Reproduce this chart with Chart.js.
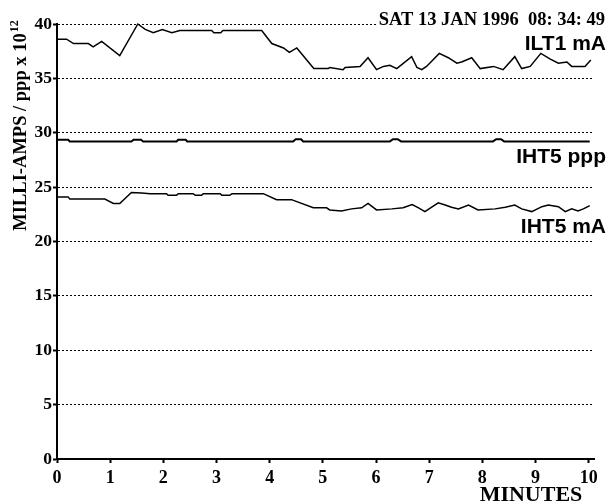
<!DOCTYPE html>
<html>
<head>
<meta charset="utf-8">
<script src="https://cdn.jsdelivr.net/npm/chart.js@4/dist/chart.umd.min.js"></script>
<style>
  html, body { margin: 0; padding: 0; background: #fff; }
  #wrap { width: 610px; height: 502px; }
</style>
</head>
<body>
<div id="wrap"><canvas id="chart"></canvas></div>
<script>
// traces (minutes, value)
var ilt1Minutes = [0, 0.18, 0.31, 0.59, 0.68, 0.84, 1.18, 1.52, 1.66, 1.81, 1.98, 2.16, 2.31, 2.91, 2.95, 3.08, 3.12, 3.85,
  4.04, 4.26, 4.37, 4.51, 4.83, 5.10, 5.13, 5.38, 5.42, 5.70, 5.85, 6.01, 6.14, 6.26, 6.39, 6.67, 6.77, 6.86, 6.95,
  7.19, 7.36, 7.52, 7.61, 7.80, 7.96, 8.21, 8.39, 8.61, 8.74, 8.90, 9.10, 9.27, 9.43, 9.59, 9.68, 9.93, 10.04];
var ilt1Values = [38.6, 38.6, 38.2, 38.2, 37.9, 38.4, 37.1, 40.0, 39.5, 39.2, 39.5, 39.2, 39.4, 39.4, 39.2, 39.2, 39.4, 39.4,
  38.2, 37.8, 37.4, 37.8, 35.9, 35.9, 36.0, 35.8, 36.0, 36.1, 36.9, 35.8, 36.1, 36.2, 35.9, 37.0, 36.0, 35.8, 36.1,
  37.3, 36.9, 36.4, 36.5, 36.9, 35.9, 36.1, 35.8, 37.0, 35.9, 36.1, 37.3, 36.8, 36.4, 36.5, 36.1, 36.1, 36.7];

var iht5pppMinutes = [0, 0.21, 0.24, 1.40, 1.44, 1.58, 1.62, 2.25, 2.28, 2.42, 2.45, 4.44, 4.49, 4.59, 4.63,
  6.26, 6.32, 6.41, 6.47, 8.20, 8.26, 8.35, 8.41, 10.02];
var iht5pppValues = [29.35, 29.35, 29.2, 29.2, 29.35, 29.35, 29.2, 29.2, 29.35, 29.35, 29.2, 29.2, 29.4, 29.4, 29.2,
  29.2, 29.4, 29.4, 29.2, 29.2, 29.4, 29.4, 29.2, 29.2];

var iht5maMinutes = [0, 0.21, 0.24, 0.90, 1.06, 1.18, 1.40, 1.59, 1.75, 2.06, 2.09, 2.25, 2.28, 2.56, 2.60, 2.72, 2.75,
  3.07, 3.10, 3.25, 3.29, 3.88, 4.13, 4.41, 4.82, 5.07, 5.13, 5.35, 5.54, 5.73, 5.85, 6.01, 6.30, 6.51, 6.68, 6.80,
  6.92, 7.17, 7.30, 7.42, 7.55, 7.74, 7.92, 8.24, 8.43, 8.61, 8.74, 8.93, 9.12, 9.24, 9.43, 9.56, 9.68, 9.80, 9.90, 10.02];
var iht5maValues = [24.1, 24.1, 23.9, 23.9, 23.5, 23.5, 24.5, 24.45, 24.4, 24.4, 24.25, 24.25, 24.4, 24.4, 24.25, 24.25, 24.4,
  24.4, 24.25, 24.25, 24.4, 24.4, 23.85, 23.85, 23.1, 23.1, 22.9, 22.8, 23.0, 23.1, 23.5, 22.9, 23.0, 23.1, 23.4, 23.1,
  22.75, 23.55, 23.35, 23.15, 23.0, 23.35, 22.9, 23.0, 23.15, 23.35, 23.0, 22.75, 23.2, 23.35, 23.2, 22.75, 23.0, 22.8, 23.0, 23.3];

var seriesLabels = ['ILT1 mA', 'IHT5 ppp', 'IHT5 mA'];
var xTicks = [0, 1, 2, 3, 4, 5, 6, 7, 8, 9, 10];
var yTicks = [0, 5, 10, 15, 20, 25, 30, 35, 40];
var timestamp = 'SAT 13 JAN 1996  08: 34: 49';

var SERIF = '"Liberation Serif", "Times New Roman", serif';
var SANS = '"Liberation Sans", Arial, sans-serif';

function points(xs, ys){
  return xs.map(function(x, i){ return {x: x, y: ys[i]}; });
}

// text that the axes can't do by themselves
var annotations = {
  id: 'annotations',
  afterDraw: function(chart){
    var ctx = chart.ctx;
    ctx.save();

    // time stamp sits on top of the 40 gridline
    ctx.font = 'bold 18.5px ' + SERIF;
    ctx.textAlign = 'right';
    ctx.textBaseline = 'alphabetic';
    var tw = ctx.measureText(timestamp).width;
    ctx.fillStyle = '#fff';
    ctx.fillRect(605 - tw - 1, 11, tw + 6, 17);
    ctx.fillStyle = '#000';
    ctx.fillText(timestamp, 605, 25);

    // series names at right
    ctx.font = 'bold 21px ' + SANS;
    ctx.fillText(seriesLabels[0], 606, 50);
    ctx.fillText(seriesLabels[1], 606, 163);
    ctx.fillText(seriesLabels[2], 606, 233);

    // x title
    ctx.textAlign = 'center';
    ctx.font = 'bold 22px ' + SERIF;
    ctx.fillText('MINUTES', 531, 501);

    // y title, rotated, with superscript
    var main = 'MILLI-AMPS / ppp x 10';
    var sup = '12';
    ctx.font = 'bold 18.5px ' + SERIF;
    var w1 = ctx.measureText(main).width;
    ctx.font = 'bold 12px ' + SERIF;
    var w2 = ctx.measureText(sup).width;
    ctx.translate(26, 126);
    ctx.rotate(-Math.PI / 2);
    ctx.textAlign = 'left';
    ctx.font = 'bold 18.5px ' + SERIF;
    var start = -(w1 + w2) / 2;
    ctx.fillText(main, start, 0);
    ctx.font = 'bold 12px ' + SERIF;
    ctx.fillText(sup, start + w1 + 1, -8);
    ctx.restore();
  }
};

var lineStyle = {borderColor: '#000', pointRadius: 0, tension: 0, fill: false, clip: false};

new Chart(document.getElementById('chart'), {
  type: 'line',
  data: {
    datasets: [
      Object.assign({label: seriesLabels[0], data: points(ilt1Minutes, ilt1Values), borderWidth: 1.5}, lineStyle),
      Object.assign({label: seriesLabels[1], data: points(iht5pppMinutes, iht5pppValues), borderWidth: 2}, lineStyle),
      Object.assign({label: seriesLabels[2], data: points(iht5maMinutes, iht5maValues), borderWidth: 1.5}, lineStyle)
    ]
  },
  options: {
    responsive: true,
    maintainAspectRatio: false,
    animation: false,
    layout: {autoPadding: false, padding: {top: 24, right: 16, left: 0, bottom: 0}},
    plugins: {legend: {display: false}, tooltip: {enabled: false}},
    scales: {
      x: {
        type: 'linear',
        min: 0,
        max: 10.1,
        afterFit: function(s){ s.height = 43; },
        afterBuildTicks: function(s){ s.ticks = xTicks.map(function(v){ return {value: v}; }); },
        grid: {drawOnChartArea: false, drawTicks: true, tickLength: 4, tickColor: '#000', tickWidth: 2},
        border: {display: true, color: '#000', width: 2},
        ticks: {color: '#000', font: {family: SERIF, size: 18, weight: 'bold'}, padding: 5, maxRotation: 0}
      },
      y: {
        min: 0,
        max: 40,
        afterFit: function(s){ s.width = 57; },
        afterBuildTicks: function(s){ s.ticks = yTicks.map(function(v){ return {value: v}; }); },
        grid: {
          drawOnChartArea: true,
          color: function(c){ return c.tick && c.tick.value === 0 ? 'rgba(0,0,0,0)' : '#000'; },
          lineWidth: 1,
          drawTicks: true, tickLength: 4, tickColor: '#000', tickWidth: 2
        },
        border: {display: true, color: '#000', width: 2, dash: [2, 2]},
        ticks: {color: '#000', font: {family: SERIF, size: 17.5, weight: 'bold'}, padding: 1}
      }
    }
  },
  plugins: [annotations]
});
</script>
</body>
</html>
